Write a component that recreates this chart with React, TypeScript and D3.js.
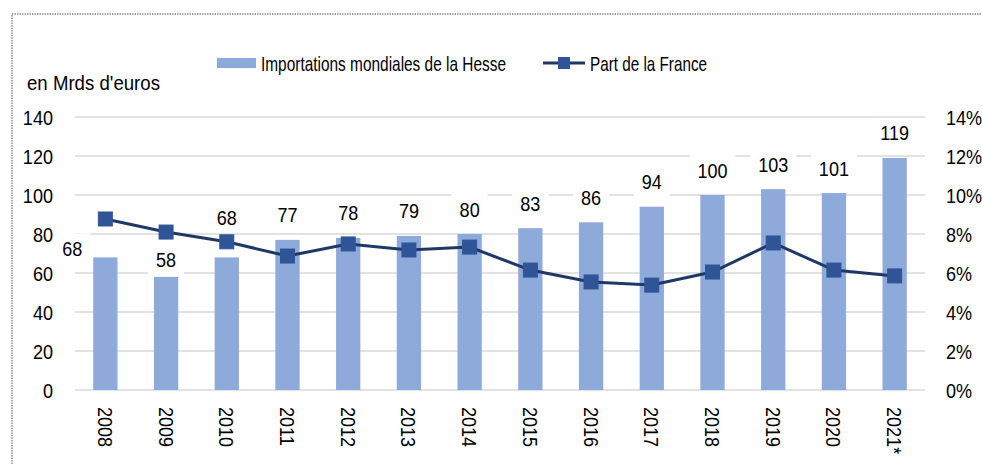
import * as d3 from "d3";

const years = ["2008", "2009", "2010", "2011", "2012", "2013", "2014", "2015", "2016", "2017", "2018", "2019", "2020", "2021*"];
const hesseImports = [68, 58, 68, 77, 78, 79, 80, 83, 86, 94, 100, 103, 101, 119];
const franceShare = [8.77, 8.1, 7.6, 6.87, 7.49, 7.18, 7.33, 6.15, 5.54, 5.38, 6.05, 7.54, 6.15, 5.85];
const leftTicks = [0, 20, 40, 60, 80, 100, 120, 140];
const rightTicks = [0, 2, 4, 6, 8, 10, 12, 14];
// manual nudges of the value labels (dx, dy) like in the original
const labelNudge: [number, number][] = [[-33, 16], [0, 8], [0, -15]];

const W = 982;
const H = 464;
const FONT = "'Liberation Sans', Arial, sans-serif";
const BAR = "#8eaadb";
const LINE = "#203864";
const MARK = "#2f5597";
const GRID = "#d9d9d9";
const SX = 0.86; // narrow look of the original font

function T({
  x,
  y,
  anchor = "start",
  rotate = 0,
  children,
}: {
  x: number;
  y: number;
  anchor?: "start" | "middle" | "end";
  rotate?: number;
  children: React.ReactNode;
}) {
  return (
    <g transform={`translate(${x},${y}) rotate(${rotate}) scale(${SX},1)`}>
      <text textAnchor={anchor} dominantBaseline="central">
        {children}
      </text>
    </g>
  );
}

export default function App() {
  const x = d3.scaleBand().domain(years).range([75, 925]).paddingInner(0.6).paddingOuter(0.3);
  const y = d3.scaleLinear().domain([0, 140]).range([390, 117]);
  const yPct = d3.scaleLinear().domain([0, 14]).range([390, 117]);
  const cx = (yr: string) => (x(yr) ?? 0) + x.bandwidth() / 2;

  const line = d3
    .line<number>()
    .x((_, i) => cx(years[i]))
    .y((d) => yPct(d));

  return (
    <svg
      width={W}
      height={H}
      style={{ position: "absolute", left: 0, top: 0, background: "#fff" }}
      fontFamily={FONT}
      fontSize={21}
      fill="#000"
    >
      <rect x={12} y={14} width={1000} height={500} fill="#fff" stroke="#555" strokeWidth={1} strokeDasharray="1.5 1" />

      {/* grid */}
      {leftTicks.map((t) => (
        <line key={t} x1={75} x2={925} y1={y(t)} y2={y(t)} stroke={GRID} strokeWidth={1.6} />
      ))}

      {/* bars */}
      {hesseImports.map((v, i) => (
        <rect key={years[i]} x={x(years[i])} y={y(v)} width={x.bandwidth()} height={y(0) - y(v)} fill={BAR} />
      ))}

      {/* value labels with white boxes */}
      {hesseImports.map((v, i) => {
        const [dx, dy] = labelNudge[i] ?? [0, 0];
        const lx = cx(years[i]) + dx;
        const ly = y(v) - 25 + dy;
        const w = String(v).length * 10 + 16;
        return (
          <g key={"l" + i}>
            <rect x={lx - w / 2} y={ly - 15} width={w} height={30} fill="#fff" />
            <T x={lx} y={ly} anchor="middle">
              {v}
            </T>
          </g>
        );
      })}

      {/* line + markers */}
      <path d={line(franceShare) ?? ""} fill="none" stroke={LINE} strokeWidth={3} />
      {franceShare.map((v, i) => (
        <rect key={"m" + i} x={cx(years[i]) - 7} y={yPct(v) - 7} width={14} height={14} fill={MARK} stroke={MARK} />
      ))}

      {/* left axis */}
      {leftTicks.map((t) => (
        <T key={"y" + t} x={53} y={y(t)} anchor="end">
          {t}
        </T>
      ))}
      {/* right axis */}
      {rightTicks.map((t) => (
        <T key={"r" + t} x={946} y={yPct(t)}>
          {t}%
        </T>
      ))}
      {/* x axis labels */}
      {years.map((yr) => (
        <T key={"x" + yr} x={cx(yr)} y={407} rotate={90}>
          {yr}
        </T>
      ))}

      <text x={27} y={82} dominantBaseline="central" textLength={133} lengthAdjust="spacingAndGlyphs">
        en Mrds d'euros
      </text>

      {/* legend */}
      <rect x={217} y={58} width={39} height={10} fill={BAR} />
      <text x={261} y={63} dominantBaseline="central" textLength={245} lengthAdjust="spacingAndGlyphs">
        Importations mondiales de la Hesse
      </text>
      <line x1={543} x2={585} y1={63} y2={63} stroke={LINE} strokeWidth={3} />
      <rect x={558} y={57} width={12} height={12} fill={MARK} />
      <text x={590} y={63} dominantBaseline="central" textLength={117} lengthAdjust="spacingAndGlyphs">
        Part de la France
      </text>
    </svg>
  );
}
